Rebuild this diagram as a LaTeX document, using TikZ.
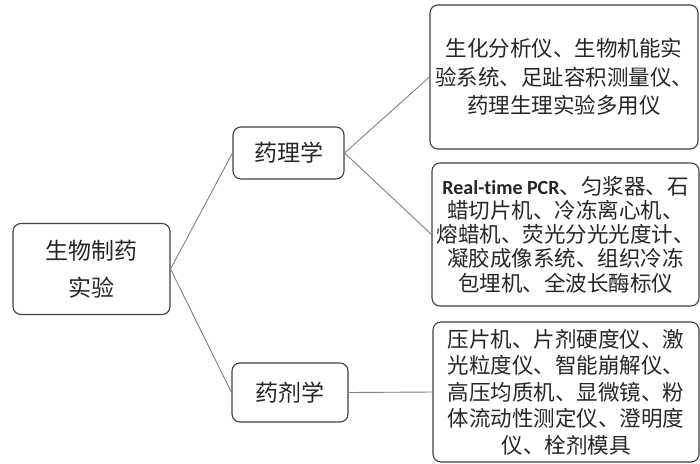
\documentclass[tikz,border=0pt]{standalone}
\usepackage{fontspec}
\setmainfont{Noto Sans CJK SC}
\newfontfamily\latinbold[Ligatures={NoCommon,NoRare}]{Carlito}
\begin{document}
\begin{tikzpicture}[x=1pt,y=-1pt,
  box/.style={draw=black!75,line width=1.1pt,rounded corners=8pt,fill=white,inner sep=0pt,align=center,text=black!85},
  link/.style={draw=black!50,line width=0.9pt}]
\useasboundingbox (0,0) rectangle (700,463);
\node[box,minimum width=157,minimum height=91,font=\fontsize{23}{37}\selectfont] (root) at (91.5,269) {生物制药\\实验};
\node[box,minimum width=111,minimum height=52,font=\fontsize{23}{28}\selectfont] (yl) at (288.5,153) {药理学};
\node[box,minimum width=116,minimum height=59,font=\fontsize{23}{28}\selectfont] (yj) at (290,392.5) {药剂学};
\node[box,minimum width=268,minimum height=144,font=\fontsize{21.5}{28.5}\selectfont] (b1) at (564,77) {生化分析仪、生物机能实\\验系统、足趾容积测量仪、\\药理生理实验多用仪};
\node[box,minimum width=267,minimum height=143,font=\fontsize{21.5}{24.3}\selectfont] (b2) at (565.5,234.5) {{\latinbold\bfseries\fontsize{20}{24.3}\selectfont Real-time PCR}、匀浆器、石\\蜡切片机、冷冻离心机、\\熔蜡机、荧光分光光度计、\\凝胶成像系统、组织冷冻\\包埋机、全波长酶标仪};
\node[box,minimum width=266,minimum height=140,font=\fontsize{21.5}{26.5}\selectfont] (b3) at (566,392) {压片机、片剂硬度仪、激\\光粒度仪、智能崩解仪、\\高压均质机、显微镜、粉\\体流动性测定仪、澄明度\\仪、栓剂模具};
\draw[link] (root.east) -- (yl.west);
\draw[link] (root.east) -- (yj.west);
\draw[link] (yl.east) -- (b1.west);
\draw[link] (yl.east) -- (b2.west);
\draw[link] (yj.east) -- (b3.west);
\end{tikzpicture}
\end{document}
